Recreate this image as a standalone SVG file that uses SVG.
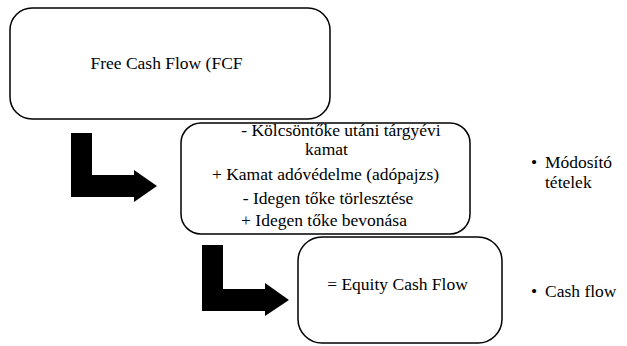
<svg xmlns="http://www.w3.org/2000/svg" width="627" height="346" viewBox="0 0 627 346">
<style>
.box{fill:#fff;stroke:#000;stroke-width:1.5}
.arr{fill:#000;stroke:none}
.c{text-anchor:middle}
</style>
<rect width="627" height="346" fill="#fff"/>
<g id="connectors">
<polygon class="arr" points="71,133 92,133 92,175 134,175 134,170 157,186 134,202 134,197 71,197"/>
<polygon class="arr" points="202,245 223,245 223,289 265,289 265,283 289,300 265,316 265,311 202,311"/>
</g>
<g font-family="Liberation Serif, Times New Roman, Times, serif" font-size="17.5" fill="#000">
<g id="fcf">
<rect class="box" x="10" y="8" width="320" height="111" rx="22" ry="22"/>
<text class="c" x="166.5" y="69">Free Cash Flow (FCF</text>
</g>
<g id="adjustments">
<rect class="box" x="181" y="123" width="289" height="111" rx="20" ry="20"/>
<text class="c" x="341" y="136">- Kölcsöntőke utáni tárgyévi</text>
<text class="c" x="326.5" y="155">kamat</text>
<text class="c" x="325.5" y="180">+ Kamat adóvédelme (adópajzs)</text>
<text class="c" x="328" y="204">- Idegen tőke törlesztése</text>
<text class="c" x="324" y="226">+ Idegen tőke bevonása</text>
</g>
<g id="ecf">
<rect class="box" x="298" y="237" width="204" height="106" rx="24" ry="24"/>
<text class="c" x="397.5" y="290">= Equity Cash Flow</text>
</g>
<g id="label-modosito">
<text x="531" y="168">•</text>
<text x="545" y="168">Módosító</text>
<text x="545" y="188">tételek</text>
</g>
<g id="label-cashflow">
<text x="531" y="297">•</text>
<text x="545" y="297">Cash flow</text>
</g>
</g>
</svg>
